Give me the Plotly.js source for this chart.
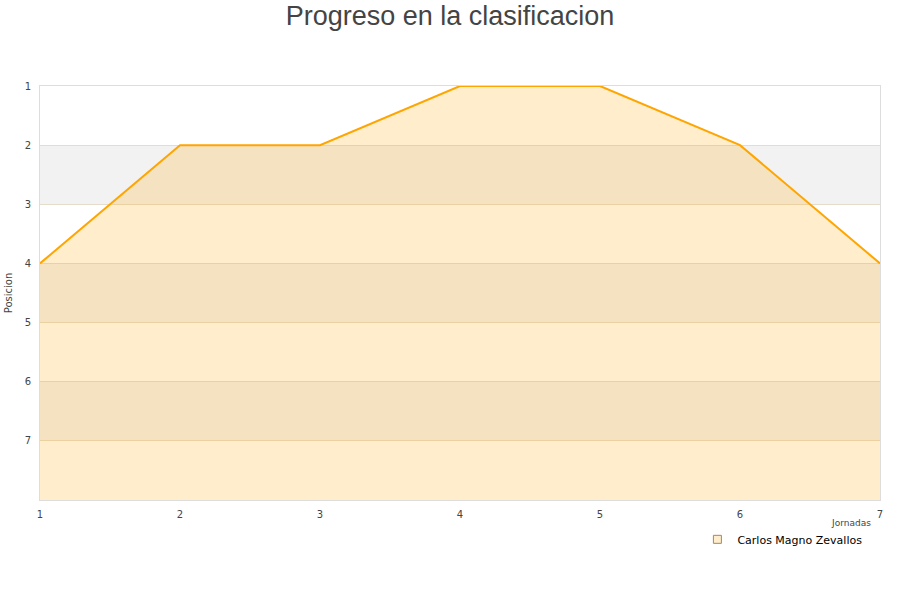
<!DOCTYPE html>
<html>
<head>
<meta charset="utf-8">
<script src="https://cdn.plot.ly/plotly-3.0.1.min.js"></script>
<style>html,body{margin:0;padding:0;background:#fff;}#chart{width:900px;height:600px;}</style>
</head>
<body>
<div id="chart"></div>
<script>
var jornadas = [1, 2, 3, 4, 5, 6, 7];
var posicion = [4, 2, 2, 1, 1, 2, 4];
var fondo = [8, 8, 8, 8, 8, 8, 8];
var yTicks = [1, 2, 3, 4, 5, 6, 7];
var bandas = [[2, 3], [4, 5], [6, 7]];
var jugador = 'Carlos Magno Zevallos';

var shapes = bandas.map(function (b) {
  return {type: 'rect', xref: 'paper', yref: 'y', x0: 0, x1: 1, y0: b[0], y1: b[1],
          fillcolor: '#f2f2f2', line: {width: 0}, layer: 'below'};
});

var traces = [
  {x: jornadas, y: fondo, mode: 'lines', line: {width: 0}, showlegend: false, hoverinfo: 'skip'},
  {x: jornadas, y: posicion, mode: 'lines', fill: 'tonexty', fillcolor: 'rgba(255,165,0,0.2)',
   line: {color: '#ffa500', width: 2}, showlegend: false, name: jugador},
  {x: [null], y: [null], mode: 'markers', name: jugador,
   marker: {symbol: 'square', size: 8, color: '#ffedcc', line: {color: '#a08a60', width: 1}}}
];

var layout = {
  width: 900, height: 600,
  margin: {l: 40, r: 20, t: 86, b: 100},
  paper_bgcolor: '#fff', plot_bgcolor: 'rgba(0,0,0,0)',
  font: {family: 'DejaVu Sans', size: 10, color: '#444'},
  title: {text: 'Progreso en la clasificacion', x: 0.5, xanchor: 'center', y: 0.99, yanchor: 'top',
          font: {family: 'Liberation Sans', size: 27, color: '#444'}},
  xaxis: {range: [1, 7], tickvals: jornadas, showgrid: false, zeroline: false,
          showline: true, linecolor: '#ddd', mirror: true, ticks: 'outside', ticklen: 5, tickcolor: 'rgba(0,0,0,0)',
          tickfont: {family: 'DejaVu Sans', size: 10, color: '#444'}},
  yaxis: {range: [8, 1], tickvals: yTicks, showgrid: true, gridcolor: '#e6dccb', zeroline: false,
          showline: true, linecolor: '#ddd', mirror: true, ticks: 'outside', ticklen: 6, tickcolor: 'rgba(0,0,0,0)',
          tickfont: {family: 'DejaVu Sans', size: 10, color: '#444'},
          title: {text: 'Posicion', font: {family: 'DejaVu Sans', size: 10, color: '#444'}, standoff: 10}},
  shapes: shapes,
  annotations: [{text: 'Jornadas', xref: 'paper', yref: 'paper', x: 0.99, y: -0.041, xanchor: 'right', yanchor: 'top',
                 showarrow: false, borderpad: 0, font: {family: 'DejaVu Sans', size: 9, color: '#444'}}],
  legend: {x: 0.985, xanchor: 'right', y: -0.06, yanchor: 'top', bgcolor: '#fff',
           font: {family: 'DejaVu Sans', size: 11, color: '#000'}, itemwidth: 30}
};

Plotly.newPlot('chart', traces, layout, {displayModeBar: false, staticPlot: true});
</script>
</body>
</html>
